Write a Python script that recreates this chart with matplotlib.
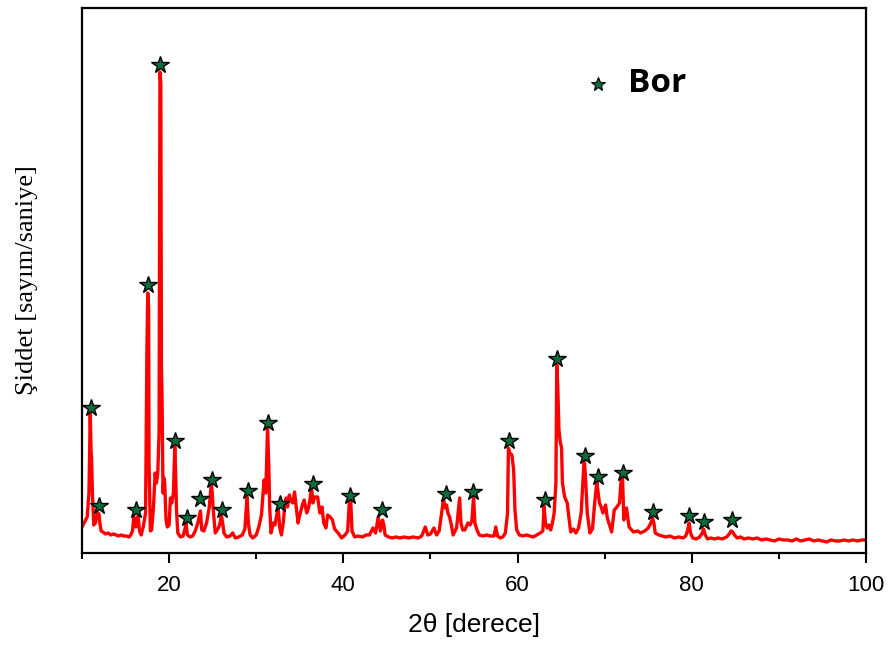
import matplotlib
matplotlib.use("Agg")
import matplotlib.pyplot as plt
from matplotlib.ticker import MultipleLocator, NullLocator

# -----------------------------
# XRD pattern (2theta in degrees, intensity arb. units)
# -----------------------------
two_theta = [
    10.0, 10.3, 10.6, 10.8, 10.95, 11.05, 11.1, 11.2, 11.35, 11.55, 11.7, 11.85, 11.95, 12.05,
    12.2, 12.4, 12.7, 13.0, 13.3, 13.6, 13.9, 14.2, 14.5, 14.8, 15.1, 15.4, 15.6, 15.8,
    15.95, 16.05, 16.2, 16.35, 16.45, 16.6, 16.8, 17.05, 17.3, 17.45, 17.55, 17.65, 17.7, 17.85,
    18.0, 18.2, 18.4, 18.55, 18.7, 18.85, 18.95, 19.05, 19.12, 19.2, 19.3, 19.4, 19.5, 19.65,
    19.8, 20.0, 20.15, 20.3, 20.5, 20.65, 20.75, 20.85, 21.0, 21.3, 21.6, 21.85, 21.95, 22.1,
    22.4, 22.7, 23.0, 23.3, 23.6, 23.75, 24.0, 24.3, 24.6, 24.85, 24.95, 25.05, 25.3, 25.6,
    25.8, 26.0, 26.15, 26.3, 26.6, 27.0, 27.3, 27.6, 28.0, 28.4, 28.7, 28.95, 29.1, 29.3,
    29.6, 30.0, 30.3, 30.6, 30.9, 31.1, 31.3, 31.45, 31.55, 31.7, 31.95, 32.15, 32.4, 32.55,
    32.7, 32.9, 33.1, 33.3, 33.45, 33.6, 33.8, 34.0, 34.2, 34.4, 34.6, 34.8, 35.0, 35.3,
    35.5, 35.8, 36.0, 36.2, 36.35, 36.5, 36.7, 37.05, 37.3, 37.55, 37.75, 38.0, 38.2, 38.5,
    38.75, 39.0, 39.4, 39.8, 40.2, 40.5, 40.7, 40.85, 41.0, 41.3, 41.7, 42.2, 42.6, 43.0,
    43.4, 43.7, 44.0, 44.25, 44.5, 44.65, 44.8, 45.2, 45.6, 46.0, 46.5, 47.0, 47.5, 48.0,
    48.6, 49.0, 49.4, 49.7, 50.0, 50.4, 50.7, 51.0, 51.5, 51.7, 51.85, 52.0, 52.2, 52.4,
    52.6, 53.0, 53.35, 53.5, 53.7, 53.95, 54.3, 54.55, 54.75, 54.95, 55.1, 55.3, 55.6, 56.0,
    56.5, 56.8, 57.3, 57.5, 57.7, 58.0, 58.3, 58.6, 58.85, 58.95, 59.1, 59.35, 59.55, 59.7,
    59.9, 60.2, 60.6, 61.0, 61.4, 61.8, 62.2, 62.6, 62.9, 63.05, 63.2, 63.4, 63.6, 63.8,
    64.0, 64.2, 64.4, 64.5, 64.6, 64.75, 64.9, 65.05, 65.15, 65.4, 65.7, 65.9, 66.1, 66.4,
    66.7, 67.0, 67.3, 67.65, 67.8, 68.0, 68.3, 68.6, 68.85, 69.1, 69.25, 69.4, 69.6, 69.8,
    70.1, 70.3, 70.8, 71.1, 71.4, 71.7, 71.9, 72.05, 72.2, 72.5, 72.8, 73.3, 73.8, 74.1,
    74.6, 75.0, 75.3, 75.5, 75.65, 75.8, 76.2, 76.6, 77.0, 77.5, 78.0, 78.5, 79.0, 79.3,
    79.5, 79.7, 79.85, 80.1, 80.5, 80.9, 81.2, 81.35, 81.5, 81.8, 82.2, 82.6, 83.0, 83.5,
    84.0, 84.3, 84.5, 84.7, 84.9, 85.2, 85.6, 86.0, 86.5, 87.0, 87.5, 88.0, 88.5, 89.0,
    89.5, 90.0, 90.5, 91.0, 91.5, 92.0, 92.5, 93.0, 93.5, 94.0, 94.5, 95.0, 95.5, 96.0,
    96.5, 97.0, 97.5, 98.0, 98.5, 99.0, 99.5, 100.0,
]
intensity = [
    26, 31, 36, 60, 140, 100, 95, 60, 28, 30, 38, 40, 39, 30,
    22, 21, 19, 20, 18, 19, 18, 17, 18, 17, 17, 16, 18, 22,
    36, 30, 26, 36, 37, 22, 18, 27, 40, 200, 260, 245, 90, 22,
    23, 45, 80, 70, 80, 120, 481, 470, 188, 150, 60, 75, 70, 33,
    26, 28, 55, 50, 60, 106, 80, 43, 20, 16, 17, 25, 30, 18,
    16, 17, 22, 30, 42, 23, 22, 30, 45, 70, 60, 45, 20, 24,
    28, 38, 30, 20, 16, 17, 20, 15, 16, 18, 24, 56, 30, 18,
    15, 18, 26, 38, 73, 60, 125, 86, 45, 20, 30, 28, 40, 43,
    25, 18, 30, 50, 55, 46, 58, 52, 50, 61, 45, 30, 38, 48,
    53, 40, 45, 55, 66, 50, 56, 56, 40, 46, 30, 25, 38, 36,
    33, 24, 20, 15, 18, 22, 53, 52, 22, 16, 17, 16, 18, 18,
    25, 20, 36, 22, 33, 28, 18, 16, 15, 16, 15, 16, 15, 16,
    15, 17, 26, 18, 19, 25, 18, 22, 54, 45, 48, 40, 36, 28,
    18, 25, 55, 30, 23, 23, 30, 28, 32, 56, 30, 24, 18, 17,
    18, 17, 17, 26, 17, 15, 16, 20, 40, 105, 100, 98, 83, 43,
    23, 18, 17, 18, 17, 16, 18, 20, 22, 47, 30, 25, 28, 23,
    30, 40, 70, 188, 170, 123, 111, 105, 70, 56, 50, 35, 21, 24,
    20, 25, 40, 95, 75, 40, 20, 24, 50, 71, 60, 50, 46, 40,
    48, 35, 21, 43, 46, 50, 75, 75, 33, 45, 26, 21, 22, 20,
    22, 25, 30, 35, 30, 20, 18, 17, 16, 17, 15, 16, 15, 17,
    22, 30, 20, 15, 14, 16, 20, 24, 19, 14, 15, 14, 15, 14,
    16, 19, 22, 21, 18, 15, 16, 14, 15, 14, 15, 13, 14, 13,
    12, 14, 13, 13, 12, 14, 12, 13, 14, 12, 13, 12, 11, 13,
    12, 12, 13, 12, 13, 12, 13, 13,
]

# star markers (identified Bor peaks)
star_theta = [11.03, 11.95, 16.2, 17.58, 19.0, 20.7, 22.05, 23.55, 24.9, 26.1,
              29.05, 31.35, 32.7, 36.5, 40.8, 44.45, 51.8, 54.9, 59.0, 63.15,
              64.55, 67.75, 69.25, 72.1, 75.55, 79.7, 81.4, 84.6]
star_int = [145, 47, 43, 268, 488, 112, 35, 54, 73, 43,
            62, 130, 49, 69, 57, 43, 59, 61, 112, 53,
            194, 97, 76, 80, 41, 37, 31, 33]

fig = plt.figure(figsize=(8.92, 6.46), dpi=100)
ax = fig.add_axes([0.0919, 0.144, 0.879, 0.8436])

ax.plot(two_theta, intensity, color="red", lw=2.4, zorder=2)
ax.plot(star_theta, star_int, ls="none", marker="*", ms=13,
        mfc="#0b6e3a", mec="black", mew=1.0, zorder=3)

ax.set_xlim(10, 100)
ax.set_ylim(0, 545)
ax.xaxis.set_major_locator(MultipleLocator(20))
ax.xaxis.set_minor_locator(MultipleLocator(10))
ax.yaxis.set_major_locator(NullLocator())
ax.set_xticks([20, 40, 60, 80, 100])

ax.tick_params(axis="x", which="major", direction="out", length=7, width=1.5,
               labelsize=16, pad=9)
ax.tick_params(axis="x", which="minor", direction="out", length=4, width=1.5)
for lab in ax.get_xticklabels():
    lab.set_fontfamily(["Liberation Sans", "DejaVu Sans"])

for sp in ax.spines.values():
    sp.set_linewidth(1.6)

ax.set_xlabel("2θ [derece]", fontsize=19, family=["Liberation Sans", "DejaVu Sans"], labelpad=12)
ax.set_ylabel("Şiddet [sayım/saniye]", fontsize=19, family=["Liberation Serif", "DejaVu Serif"],
              labelpad=32)

# legend entry drawn by hand
ax.plot([0.658], [0.861], transform=ax.transAxes, ls="none", marker="*", ms=10,
        mfc="#0b6e3a", mec="black", mew=0.8, clip_on=False)
ax.text(0.696, 0.861, "Bor", transform=ax.transAxes, va="center", ha="left",
        fontsize=24, fontweight="bold", family=["Open Sans", "DejaVu Sans"])

fig.savefig("out.png", dpi=100)
